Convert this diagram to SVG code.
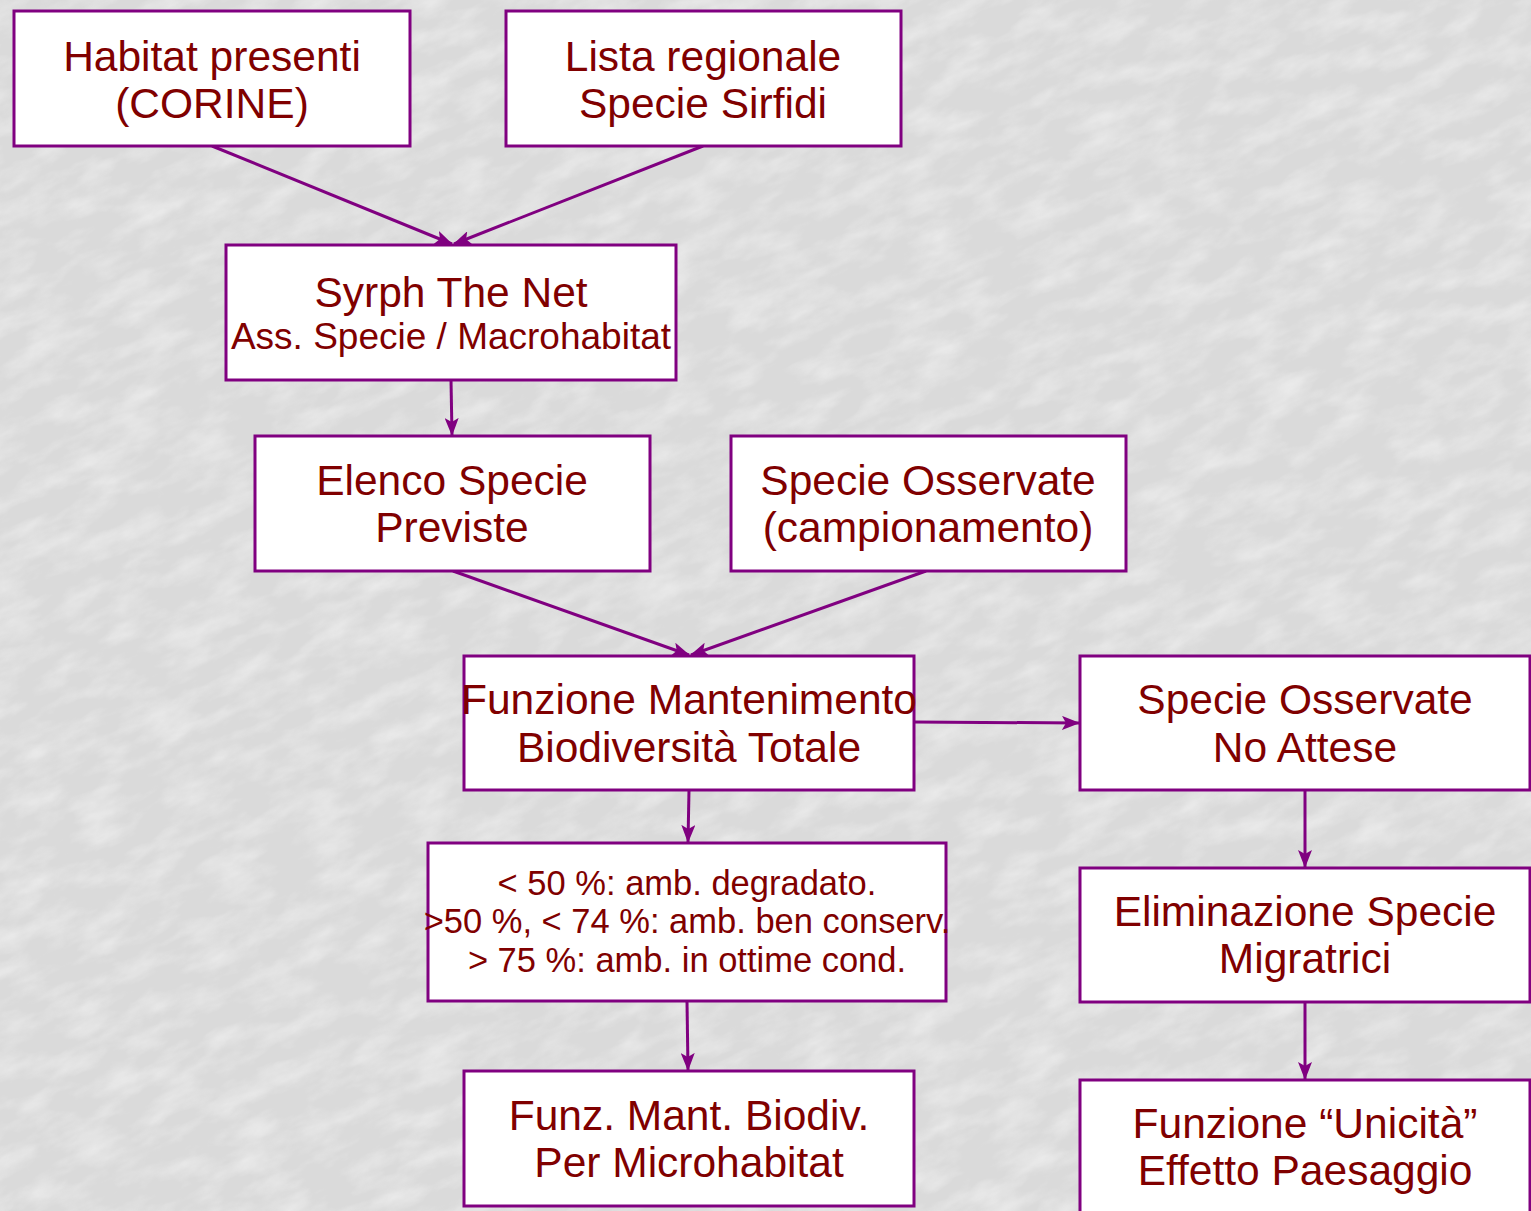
<svg xmlns="http://www.w3.org/2000/svg" width="1531" height="1211" viewBox="0 0 1531 1211">
<style>
.box{fill:#ffffff;stroke:#800080;stroke-width:3}
.t{font-family:"Liberation Sans",Arial,sans-serif;font-size:42.5px;fill:#800000;text-anchor:middle}
.s{font-size:37px}
.m{font-size:34.5px}
.c{stroke:#800080;stroke-width:3;fill:none;marker-end:url(#ah)}
</style>
<defs>
<marker id="ah" viewBox="0 0 18 14" refX="17" refY="7" markerWidth="18" markerHeight="14" markerUnits="userSpaceOnUse" orient="auto">
<path d="M0,0 L18,7 L0,14 L4,7 Z" fill="#800080"/>
</marker>
<filter id="marble" x="0" y="0" width="100%" height="100%">
<feTurbulence type="fractalNoise" baseFrequency="0.02 0.05" numOctaves="4" seed="3" result="n"/>
<feColorMatrix type="matrix" values="0 0 0 0 1  0 0 0 0 1  0 0 0 0 1  1.4 0 0 0 -0.55" />
</filter>
</defs>
<rect width="1531" height="1211" fill="#dadada"/>
<rect x="-400" y="-400" width="2400" height="2000" filter="url(#marble)" opacity="0.6" transform="rotate(-25 765 605)"/>
<g id="connectors">
<line class="c" x1="212" y1="146" x2="452" y2="244"/>
<line class="c" x1="703" y1="146" x2="454" y2="244"/>
<line class="c" x1="451" y1="380" x2="452" y2="435"/>
<line class="c" x1="453" y1="571" x2="689" y2="655"/>
<line class="c" x1="926" y1="571" x2="691" y2="655"/>
<line class="c" x1="914" y1="722" x2="1079" y2="723"/>
<line class="c" x1="689" y1="790" x2="688" y2="842"/>
<line class="c" x1="687" y1="1001" x2="688" y2="1070"/>
<line class="c" x1="1305" y1="790" x2="1305" y2="867"/>
<line class="c" x1="1305" y1="1002" x2="1305" y2="1079"/>
</g>
<g id="n1"><rect class="box" x="14" y="11" width="396" height="135"/>
<text class="t" x="212" y="71">Habitat presenti</text><text class="t" x="212" y="118">(CORINE)</text></g>
<g id="n2"><rect class="box" x="506" y="11" width="395" height="135"/>
<text class="t" x="703" y="71">Lista regionale</text><text class="t" x="703" y="118">Specie Sirfidi</text></g>
<g id="n3"><rect class="box" x="226" y="245" width="450" height="135"/>
<text class="t" x="451" y="307">Syrph The Net</text><text class="t s" x="451" y="349">Ass. Specie / Macrohabitat</text></g>
<g id="n4"><rect class="box" x="255" y="436" width="395" height="135"/>
<text class="t" x="452" y="495">Elenco Specie</text><text class="t" x="452" y="542">Previste</text></g>
<g id="n5"><rect class="box" x="731" y="436" width="395" height="135"/>
<text class="t" x="928" y="495">Specie Osservate</text><text class="t" x="928" y="542">(campionamento)</text></g>
<g id="n6"><rect class="box" x="464" y="656" width="450" height="134"/>
<text class="t" x="689" y="714">Funzione Mantenimento</text><text class="t" x="689" y="762">Biodiversità Totale</text></g>
<g id="n7"><rect class="box" x="1080" y="656" width="450" height="134"/>
<text class="t" x="1305" y="714">Specie Osservate</text><text class="t" x="1305" y="762">No Attese</text></g>
<g id="n8"><rect class="box" x="428" y="843" width="518" height="158"/>
<text class="t m" x="687" y="895">&lt; 50 %: amb. degradato.</text>
<text class="t m" x="687" y="933">&gt;50 %, &lt; 74 %: amb. ben conserv.</text>
<text class="t m" x="687" y="972">&gt; 75 %: amb. in ottime cond.</text></g>
<g id="n9"><rect class="box" x="1080" y="868" width="450" height="134"/>
<text class="t" x="1305" y="926">Eliminazione Specie</text><text class="t" x="1305" y="973">Migratrici</text></g>
<g id="n10"><rect class="box" x="464" y="1071" width="450" height="135"/>
<text class="t" x="689" y="1130">Funz. Mant. Biodiv.</text><text class="t" x="689" y="1177">Per Microhabitat</text></g>
<g id="n11"><rect class="box" x="1080" y="1080" width="450" height="140"/>
<text class="t" x="1305" y="1138">Funzione “Unicità”</text><text class="t" x="1305" y="1185">Effetto Paesaggio</text></g>
</svg>
